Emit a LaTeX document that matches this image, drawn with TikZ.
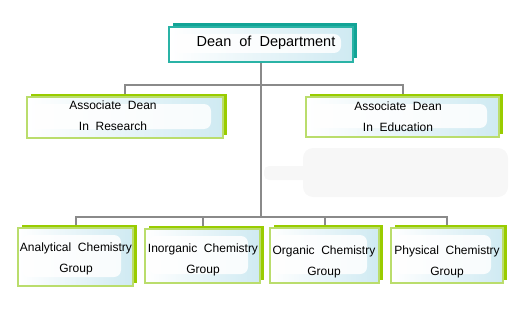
\documentclass[tikz,border=0pt]{standalone}
\usepackage{fontspec}
\setmainfont{Liberation Sans}
\usetikzlibrary{shadows,backgrounds}
\definecolor{tealline}{HTML}{2AB3A6}
\definecolor{tealshadow}{HTML}{12A496}
\definecolor{greenline}{HTML}{BADD6C}
\definecolor{greenshadow}{HTML}{99CC00}
\definecolor{boxblue}{HTML}{CFEAF2}
\definecolor{connline}{HTML}{8A8A8A}
\definecolor{smudge}{HTML}{F7F7F7}
\tikzset{
  box/.style={draw, line width=1.2pt, fill=white, inner sep=0pt,
    path picture={
      \shade[left color=white, right color=boxblue]
        (path picture bounding box.south west) rectangle (path picture bounding box.north east);
      \fill[white, opacity=0.85, rounded corners=7pt]
        ([shift={(4pt,-7pt)}]path picture bounding box.north west) rectangle
        ([shift={(-12pt,9pt)}]path picture bounding box.south east);
    }},
  deanbox/.style={box, draw=tealline,
    general shadow={fill=tealshadow, shadow xshift=4pt, shadow yshift=4pt}},
  greenbox/.style={box, draw=greenline,
    general shadow={fill=greenshadow, shadow xshift=4pt, shadow yshift=3.5pt}},
  deantext/.style={font=\fontsize{14.5}{17}\selectfont, inner sep=0pt},
  boxtext/.style={font=\fontsize{12}{21}\selectfont, align=center, inner sep=0pt},
  conn/.style={draw=connline, line width=2pt},
}
\begin{document}
\begin{tikzpicture}[x=1pt,y=-1pt]
\useasboundingbox (0,0) rectangle (530,329);

% boxes
\node[deanbox, minimum width=184pt, minimum height=35pt] (dean) at (261,44.5) {};
\node[greenbox, minimum width=196pt, minimum height=41pt] (res) at (125,117.5) {};
\node[greenbox, minimum width=193pt, minimum height=40pt] (edu) at (402.5,117) {};
\node[greenbox, minimum width=115pt, minimum height=58pt] (ana) at (75.5,257) {};
\node[greenbox, minimum width=115pt, minimum height=54pt] (ino) at (202.5,256) {};
\node[greenbox, minimum width=109pt, minimum height=55pt] (org) at (324.5,255.5) {};
\node[greenbox, minimum width=112pt, minimum height=55pt] (phy) at (447,255.5) {};

% texts
\node[deantext] (deant) at (266,43) {Dean~~of~~Department};
\node[boxtext] (rest) at (113,116) {Associate~~Dean\\In~~Research};
\node[boxtext] (edut) at (398,117) {Associate~~Dean\\In~~Education};
\node[boxtext] (anat) at (76,259) {Analytical~~Chemistry\\Group};
\node[boxtext] (inot) at (203,260) {Inorganic~~Chemistry\\Group};
\node[boxtext] (orgt) at (324,262) {Organic~~Chemistry\\Group};
\node[boxtext] (phyt) at (447,262) {Physical~~Chemistry\\Group};

\coordinate (j1) at (261,85);
\coordinate (j2) at (261,217);

\begin{scope}[on background layer]
  \fill[smudge, rounded corners=10pt] (303,148) rectangle (508,197);
  \fill[smudge, rounded corners=5pt] (264,166) rectangle (312,180);
  \draw[conn] (dean.south) -- (j2);
  \draw[conn] (res.north) |- (j1) -| (edu.north);
  \draw[conn] (ana.north) |- (j2) -| (phy.north);
  \draw[conn] (ino.north) -- (ino.north |- j2);
  \draw[conn] (org.north) -- (org.north |- j2);
\end{scope}
\end{tikzpicture}
\end{document}
